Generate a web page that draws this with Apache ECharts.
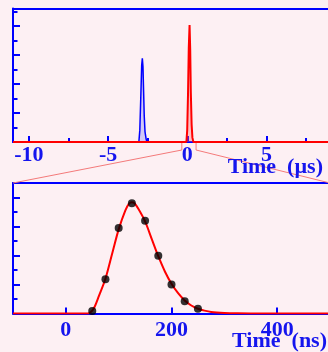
<!DOCTYPE html>
<html>
<head>
<meta charset="utf-8">
<script src="https://cdn.jsdelivr.net/npm/echarts@6/dist/echarts.min.js"></script>
<style>
  html, body { margin: 0; padding: 0; background: #fdf0f3; }
  #chart { width: 328px; height: 352px; }
</style>
</head>
<body>
<div id="chart"></div>
<script>
// top panel, time in µs
const topTicks = [-10, -5, 0, 5];
const topMinorTicks = [-7.5, -2.5, 2.5, 7.5];
const topYMajor = [2, 4, 6, 8];
const topYMinor = [1, 3, 5, 7, 9];
const blueTime = [-3.06, -3.0, -2.94, -2.88, -2.84, -2.8, -2.76, -2.72, -2.67, -2.6, -2.55];
const blueValue = [0, 0.8, 3, 5.3, 5.77, 5.2, 3.5, 1.8, 0.7, 0.2, 0];
const redTime = [-11, -0.06, -0.01, 0.04, 0.09, 0.14, 0.18, 0.22, 0.27, 0.32, 0.38, 9];
const redValue = [0, 0, 0.8, 3.2, 6.5, 8.06, 6.4, 3.4, 1.2, 0.3, 0, 0];
const topTitle = 'Time  (µs)';

// bottom panel, time in ns
const bottomTicks = [0, 200, 400];
const botYMajor = [2, 4, 6, 8];
const botYMinor = [1, 3, 5, 7];
const fitTime = [-100, 40, 45, 50, 55, 62.5, 75, 87.5, 100, 112.5, 120, 125, 130, 137.5, 150, 162.5, 175, 187.5, 200, 212.5, 225, 237.5, 250, 262.5, 275, 300, 325, 350, 500];
const fitValue = [0, 0, 0.05, 0.2, 0.5, 1.2, 2.4, 4.1, 5.8, 7.1, 7.6, 7.68, 7.6, 7.2, 6.35, 5.15, 3.95, 2.9, 2.05, 1.4, 0.9, 0.55, 0.33, 0.2, 0.11, 0.04, 0.01, 0, 0];
const pointTime = [50, 75, 100, 125, 150, 175, 200, 225, 250];
const pointValue = [0.17, 2.37, 5.9, 7.6, 6.4, 3.98, 2.0, 0.84, 0.33];
const bottomTitle = 'Time  (ns)';

const BLUE = '#0000ff';
const RED = '#ff0000';
const TXT = '#1515ee';
const labelFont = { fontFamily: 'Liberation Serif', fontWeight: 'bold', fontSize: 22, color: TXT };

const pairs = (xs, ys) => xs.map((x, i) => [x, ys[i]]);

const chart = echarts.init(document.getElementById('chart'));

const option = {
  animation: false,
  backgroundColor: '#fdf0f3',
  grid: [
    { left: 13, right: -2, top: 8.5, height: 133.5, outerBoundsMode: 'none', containLabel: false },
    { left: 13, right: -2, top: 183, height: 130.5, outerBoundsMode: 'none', containLabel: false },
  ],
  xAxis: [
    // top panel: main axis with labels
    {
      type: 'value', gridIndex: 0, min: -11, max: 9,
      axisLine: { show: true, onZero: false, lineStyle: { color: BLUE, width: 2 } },
      axisTick: { show: true, inside: true, length: 6, customValues: topTicks, lineStyle: { color: BLUE, width: 2 } },
      axisLabel: { show: true, customValues: topTicks, margin: 2, ...labelFont },
      splitLine: { show: false },
    },
    // top panel: minor ticks
    {
      type: 'value', gridIndex: 0, min: -11, max: 9, position: 'bottom',
      axisLine: { show: false, onZero: false },
      axisTick: { show: true, inside: true, length: 4, customValues: topMinorTicks, lineStyle: { color: BLUE, width: 2 } },
      axisLabel: { show: false }, splitLine: { show: false },
    },
    // top panel frame
    {
      type: 'value', gridIndex: 0, min: -11, max: 9, position: 'top',
      axisLine: { show: true, onZero: false, lineStyle: { color: BLUE, width: 2 } },
      axisTick: { show: false }, axisLabel: { show: false }, splitLine: { show: false },
    },
    // bottom panel
    {
      type: 'value', gridIndex: 1, min: -100, max: 500,
      axisLine: { show: true, onZero: false, lineStyle: { color: BLUE, width: 2 } },
      axisTick: { show: true, inside: true, length: 6, customValues: bottomTicks, lineStyle: { color: BLUE, width: 2 } },
      axisLabel: { show: true, customValues: bottomTicks, margin: 6, ...labelFont },
      splitLine: { show: false },
    },
    {
      type: 'value', gridIndex: 1, min: -100, max: 500, position: 'top',
      axisLine: { show: true, onZero: false, lineStyle: { color: BLUE, width: 2 } },
      axisTick: { show: false }, axisLabel: { show: false }, splitLine: { show: false },
    },
  ],
  yAxis: [
    {
      type: 'value', gridIndex: 0, min: 0, max: 9.2,
      axisLine: { show: true, onZero: false, lineStyle: { color: BLUE, width: 2 } },
      axisTick: { show: true, inside: true, length: 7, customValues: topYMajor, lineStyle: { color: BLUE, width: 2 } },
      axisLabel: { show: false }, splitLine: { show: false },
    },
    {
      type: 'value', gridIndex: 0, min: 0, max: 9.2, position: 'left',
      axisLine: { show: false, onZero: false },
      axisTick: { show: true, inside: true, length: 4.5, customValues: topYMinor, lineStyle: { color: BLUE, width: 2 } },
      axisLabel: { show: false }, splitLine: { show: false },
    },
    {
      type: 'value', gridIndex: 1, min: 0, max: 9,
      axisLine: { show: true, onZero: false, lineStyle: { color: BLUE, width: 2 } },
      axisTick: { show: true, inside: true, length: 7, customValues: botYMajor, lineStyle: { color: BLUE, width: 2 } },
      axisLabel: { show: false }, splitLine: { show: false },
    },
    {
      type: 'value', gridIndex: 1, min: 0, max: 9, position: 'left',
      axisLine: { show: false, onZero: false },
      axisTick: { show: true, inside: true, length: 4.5, customValues: botYMinor, lineStyle: { color: BLUE, width: 2 } },
      axisLabel: { show: false }, splitLine: { show: false },
    },
  ],
  series: [
    {
      type: 'line', xAxisIndex: 0, yAxisIndex: 0,
      data: pairs(blueTime, blueValue),
      symbol: 'none',
      lineStyle: { color: BLUE, width: 1.5 },
      areaStyle: { color: 'rgba(80,80,255,0.35)' },
    },
    {
      type: 'line', xAxisIndex: 0, yAxisIndex: 0,
      data: pairs(redTime, redValue),
      symbol: 'none',
      lineStyle: { color: RED, width: 2 },
      areaStyle: { color: 'rgba(255,90,90,0.45)' },
    },
    {
      type: 'line', xAxisIndex: 3, yAxisIndex: 2,
      data: pairs(fitTime, fitValue),
      symbol: 'none', smooth: 0.3,
      lineStyle: { color: RED, width: 2 },
    },
    {
      type: 'scatter', xAxisIndex: 3, yAxisIndex: 2,
      data: pairs(pointTime, pointValue),
      symbol: 'circle', symbolSize: 8,
      itemStyle: { color: '#000' },
      z: 5,
    },
  ],
};
chart.setOption(option);

// zoom lines linking the window in the top panel to the bottom panel
const zoomLo = -0.35, zoomHi = 0.55;
const a = chart.convertToPixel({ xAxisIndex: 0, yAxisIndex: 0 }, [zoomLo, 0]);
const b = chart.convertToPixel({ xAxisIndex: 0, yAxisIndex: 0 }, [zoomHi, 0]);
const c = chart.convertToPixel({ xAxisIndex: 3, yAxisIndex: 2 }, [-100, 9]);
const d = chart.convertToPixel({ xAxisIndex: 3, yAxisIndex: 2 }, [500, 9]);
const topEnd = chart.convertToPixel({ xAxisIndex: 0, yAxisIndex: 0 }, [9, 0]);
const botEnd = chart.convertToPixel({ xAxisIndex: 3, yAxisIndex: 2 }, [500, 0]);
const drop = 8;
const pink = { stroke: '#f47a7a', lineWidth: 1 };
const titleFont = 'bold 22px "Liberation Serif"';
chart.setOption({
  graphic: [
    { type: 'polyline', shape: { points: [a, [a[0], a[1] + drop], c] }, style: pink, z: 1 },
    { type: 'polyline', shape: { points: [b, [b[0], b[1] + drop], d] }, style: pink, z: 1 },
    {
      type: 'text', z: 10,
      style: { text: topTitle, x: topEnd[0] - 7, y: topEnd[1] + 14, align: 'right', verticalAlign: 'top', font: titleFont, fill: TXT },
    },
    {
      type: 'text', z: 10,
      style: { text: bottomTitle, x: botEnd[0] - 3, y: botEnd[1] + 17, align: 'right', verticalAlign: 'top', font: titleFont, fill: TXT },
    },
  ],
});
</script>
</body>
</html>
